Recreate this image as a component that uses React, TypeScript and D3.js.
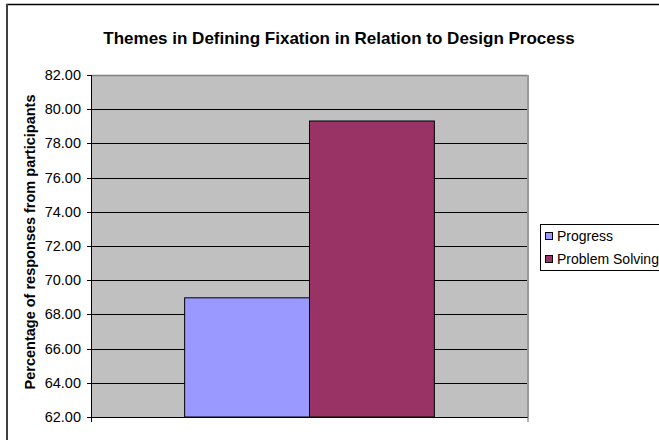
import React from 'react';
import * as d3 from 'd3';

const categories = ['Design Process'];
const seriesNames = ['Progress', 'Problem Solving'];
const seriesValues = [68.97, 79.31];
const seriesColors = ['#9999FF', '#993366'];
const yTicks = [62, 64, 66, 68, 70, 72, 74, 76, 78, 80, 82];

const W = 659;
const H = 440;
const plot = { left: 91, right: 528, top: 75, bottom: 417 };
const FONT = '"Liberation Sans", Arial, sans-serif';

export default function App() {
  const y = d3.scaleLinear().domain([62, 82]).range([plot.bottom, plot.top]);
  const x0 = d3
    .scaleBand<string>()
    .domain(categories)
    .range([plot.left, plot.right])
    .paddingInner(1.5 / 3.5)
    .paddingOuter(0.75 / 3.5);
  const x1 = d3.scaleBand<string>().domain(seriesNames).range([0, x0.bandwidth()]);
  const fmt = d3.format('.2f');

  return (
    <svg
      width={W}
      height={H}
      style={{ position: 'absolute', left: 0, top: 0, background: '#fff' }}
      fontFamily={FONT}
    >
      <rect x={0} y={0} width={W} height={H} fill="#fff" />
      {/* chart border */}
      <rect x={7} y={4.5} width={W + 20} height={H + 20} fill="none" stroke="#000" strokeWidth={1.5} />
      <line x1={7} y1={4} x2={7} y2={H} stroke="#404040" strokeWidth={2} />

      <text x={339} y={44} textAnchor="middle" fontSize={17} fontWeight="bold" fill="#000">
        Themes in Defining Fixation in Relation to Design Process
      </text>

      {/* plot area */}
      <rect
        x={plot.left}
        y={plot.top}
        width={plot.right - plot.left}
        height={plot.bottom - plot.top}
        fill="#C0C0C0"
      />
      {yTicks
        .filter((t) => t > 62 && t < 82)
        .map((t) => (
          <line key={'g' + t} x1={plot.left} x2={plot.right} y1={Math.round(y(t)) + 0.5} y2={Math.round(y(t)) + 0.5} stroke="#000" strokeWidth={1} />
        ))}
      {/* plot border top/right */}
      <line x1={plot.left} x2={plot.right} y1={plot.top + 0.5} y2={plot.top + 0.5} stroke="#808080" strokeWidth={1.5} />
      <line x1={plot.right} x2={plot.right} y1={plot.top} y2={plot.bottom} stroke="#999" strokeWidth={2} />

      {/* bars */}
      {categories.map((c) => (
        <g key={c} transform={`translate(${x0(c)},0)`}>
          {seriesNames.map((s, i) => (
            <rect
              key={s}
              x={x1(s)}
              y={y(seriesValues[i])}
              width={x1.bandwidth()}
              height={plot.bottom - y(seriesValues[i])}
              fill={seriesColors[i]}
              stroke="#000"
              strokeWidth={1}
            />
          ))}
        </g>
      ))}

      {/* axes */}
      <line x1={plot.left + 0.5} x2={plot.left + 0.5} y1={plot.top} y2={plot.bottom} stroke="#000" strokeWidth={1} />
      <line x1={plot.left} x2={plot.right} y1={plot.bottom + 0.5} y2={plot.bottom + 0.5} stroke="#000" strokeWidth={1.2} />
      <line x1={plot.left + 0.5} x2={plot.left + 0.5} y1={plot.bottom} y2={plot.bottom + 5} stroke="#000" />
      <line x1={plot.right} x2={plot.right} y1={plot.bottom} y2={plot.bottom + 5} stroke="#666" />
      {yTicks.map((t) => (
        <g key={'t' + t}>
          <line x1={plot.left - 4} x2={plot.left} y1={Math.round(y(t)) + 0.5} y2={Math.round(y(t)) + 0.5} stroke="#000" />
          <text x={81} y={y(t)} dy="0.35em" textAnchor="end" fontSize={14.5} fill="#000">
            {fmt(t)}
          </text>
        </g>
      ))}

      <text
        transform={`translate(35,${242}) rotate(-90)`}
        textAnchor="middle"
        fontSize={14.5}
        fontWeight="bold"
        fill="#000"
      >
        Percentage of responses from participants
      </text>

      {/* legend */}
      <rect x={540.5} y={224.5} width={140} height={46} fill="#fff" stroke="#000" strokeWidth={1} />
      {seriesNames.map((s, i) => (
        <g key={'l' + s} transform={`translate(0,${236 + i * 23})`}>
          <rect x={545.5} y={-3.5} width={7} height={7} fill={seriesColors[i]} stroke="#000" strokeWidth={1} />
          <text x={557} y={0} dy="0.35em" fontSize={14} fill="#000">
            {s}
          </text>
        </g>
      ))}
    </svg>
  );
}
